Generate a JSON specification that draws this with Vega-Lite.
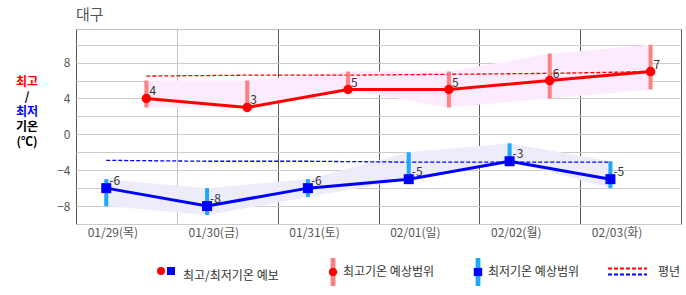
{
  "$schema": "https://vega.github.io/schema/vega-lite/v6.json",
  "width": 605,
  "height": 195,
  "autosize": "none",
  "padding": {"left": 76, "top": 29, "right": 5, "bottom": 71},
  "background": "#ffffff",
  "config": {
    "font": "Noto Sans CJK KR",
    "view": {"stroke": "#c3c3c3"},
    "legend": {"padding": 0},
    "axisY": {"title": null, "ticks": false, "domain": false, "grid": true, "gridColor": "#cccccc", "labelColor": "#555555", "labelFontSize": 12, "labelPadding": 6, "labelFont": "Noto Sans CJK KR"},
    "axisX": {"title": null, "ticks": false, "domain": false, "labelAngle": 0, "labelColor": "#555555", "labelFontSize": 12, "labelPadding": 3, "labelFont": "Noto Sans CJK KR"}
  },
  "title": {"text": "대구", "anchor": "start", "frame": "group", "fontSize": 15, "fontWeight": "normal", "color": "#555555", "offset": 6, "font": "Noto Sans CJK KR"},
  "data": {"values": [
    {"date": "01/29(목)", "hi": 4, "lo": -6, "hiMax": 6, "hiMin": 3, "loMax": -5, "loMin": -8, "hiN": 6.5, "loN": -2.9},
    {"date": "01/30(금)", "hi": 3, "lo": -8, "hiMax": 6, "hiMin": 3, "loMax": -6, "loMin": -9, "hiN": 6.6, "loN": -3.0},
    {"date": "01/31(토)", "hi": 5, "lo": -6, "hiMax": 7, "hiMin": 5, "loMax": -5, "loMin": -7, "hiN": 6.6, "loN": -3.0},
    {"date": "02/01(일)", "hi": 5, "lo": -5, "hiMax": 7, "hiMin": 3, "loMax": -2, "loMin": -5, "hiN": 6.7, "loN": -3.1},
    {"date": "02/02(월)", "hi": 6, "lo": -3, "hiMax": 9, "hiMin": 4, "loMax": -1, "loMin": -3, "hiN": 6.8, "loN": -3.1},
    {"date": "02/03(화)", "hi": 7, "lo": -5, "hiMax": 10, "hiMin": 5, "loMax": -3, "loMin": -6, "hiN": 7.0, "loN": -3.1}
  ]},
  "layer": [
    {
      "mark": {"type": "area", "color": "#fcebfc", "opacity": 1},
      "encoding": {
        "x": {"field": "date", "type": "nominal", "sort": null, "bandPosition": 0.698,
          "scale": {"type": "band", "paddingInner": 0, "paddingOuter": 0},
          "axis": {"tickBand": "extent", "grid": true, "gridWidth": 1,
            "gridColor": {"condition": {"test": "datum.value === '01/29(목)'", "value": "#c3c3c3"}, "value": "#5c5c5c"},
            "labelOffset": -14}},
        "y": {"field": "hiMax", "type": "quantitative", "scale": {"domain": [-10, 11.75], "nice": false, "zero": false},
          "axis": {"values": [-10, -8, -6, -4, -2, 0, 2, 4, 6, 8, 10], "labelExpr": "datum.value % 4 === 0 ? datum.label : ''"}},
        "y2": {"field": "hiMin"}
      }
    },
    {
      "mark": {"type": "area", "color": "#ececfb", "opacity": 1},
      "encoding": {
        "x": {"field": "date", "type": "nominal", "sort": null, "bandPosition": 0.3},
        "y": {"field": "loMax", "type": "quantitative", "scale": {"domain": [-10, 11.75], "nice": false, "zero": false},
          "axis": {"values": [-10, -8, -6, -4, -2, 0, 2, 4, 6, 8, 10], "labelExpr": "datum.value % 4 === 0 ? datum.label : ''"}},
        "y2": {"field": "loMin"}
      }
    },
    {
      "mark": {"type": "line", "color": "#ff0000", "strokeWidth": 1.3},
      "encoding": {
        "x": {"field": "date", "type": "nominal", "sort": null, "bandPosition": 0.698},
        "y": {"field": "hiN", "type": "quantitative", "scale": {"domain": [-10, 11.75], "nice": false, "zero": false},
          "axis": {"values": [-10, -8, -6, -4, -2, 0, 2, 4, 6, 8, 10], "labelExpr": "datum.value % 4 === 0 ? datum.label : ''"}},
        "strokeDash": {"datum": "평년", "scale": {"domain": ["평년"], "range": [[4, 2]]},
          "legend": {"orient": "none", "legendX": 531, "legendY": 222, "title": null, "padding": 0,
            "symbolSize": 1521, "symbolStrokeWidth": 2, "labelOffset": 10, "labelFontSize": 12, "labelColor": "#333333", "labelFont": "Noto Sans CJK KR",
            "symbolType": "M-1,-0.15L1,-0.15M-1,0.15L1,0.15",
            "symbolFillColor": "transparent",
            "symbolStrokeColor": {"expr": "{gradient: 'linear', x1: 0, y1: 0, x2: 0, y2: 1, stops: [{offset: 0, color: '#ff0000'}, {offset: 0.5, color: '#ff0000'}, {offset: 0.5, color: '#0000ff'}, {offset: 1, color: '#0000ff'}]}"}}}
      }
    },
    {
      "mark": {"type": "line", "color": "#0000ff", "strokeWidth": 1.3},
      "encoding": {
        "x": {"field": "date", "type": "nominal", "sort": null, "bandPosition": 0.3},
        "y": {"field": "loN", "type": "quantitative", "scale": {"domain": [-10, 11.75], "nice": false, "zero": false},
          "axis": {"values": [-10, -8, -6, -4, -2, 0, 2, 4, 6, 8, 10], "labelExpr": "datum.value % 4 === 0 ? datum.label : ''"}},
        "strokeDash": {"datum": "평년", "scale": {"domain": ["평년"], "range": [[4, 2]]},
          "legend": {"orient": "none", "legendX": 531, "legendY": 222, "title": null, "padding": 0,
            "symbolSize": 1521, "symbolStrokeWidth": 2, "labelOffset": 10, "labelFontSize": 12, "labelColor": "#333333", "labelFont": "Noto Sans CJK KR",
            "symbolType": "M-1,-0.15L1,-0.15M-1,0.15L1,0.15",
            "symbolFillColor": "transparent",
            "symbolStrokeColor": {"expr": "{gradient: 'linear', x1: 0, y1: 0, x2: 0, y2: 1, stops: [{offset: 0, color: '#ff0000'}, {offset: 0.5, color: '#ff0000'}, {offset: 0.5, color: '#0000ff'}, {offset: 1, color: '#0000ff'}]}"}}}
      }
    },
    {
      "mark": {"type": "rule", "strokeWidth": 4, "opacity": 1},
      "encoding": {
        "x": {"field": "date", "type": "nominal", "sort": null, "bandPosition": 0.698},
        "y": {"field": "hiMax", "type": "quantitative", "scale": {"domain": [-10, 11.75], "nice": false, "zero": false},
          "axis": {"values": [-10, -8, -6, -4, -2, 0, 2, 4, 6, 8, 10], "labelExpr": "datum.value % 4 === 0 ? datum.label : ''"}},
        "y2": {"field": "hiMin"},
        "stroke": {"datum": "hiR", "scale": {"domain": ["hiR", "loR"], "range": ["#ff8080", "#1ea7ff"]},
          "legend": {"orient": "none", "legendX": 243, "legendY": 229, "direction": "horizontal", "title": null, "padding": 0,
            "symbolSize": 784, "symbolStrokeWidth": 0, "labelOffset": -4, "columnPadding": 29,
            "labelFontSize": 12, "labelColor": "#333333", "labelFont": "Noto Sans CJK KR",
            "labelExpr": "datum.value === 'hiR' ? '최고기온 예상범위' : '최저기온 예상범위'",
            "symbolType": {"expr": "datum.value === 'hiR' ? 'M-0.17,-1L0.17,-1L0.17,1L-0.17,1Z M-0.3,0A0.3,0.3,0,1,1,0.3,0A0.3,0.3,0,1,1,-0.3,0Z' : 'M-0.17,-1L0.17,-1L0.17,1L-0.17,1Z M-0.3,-0.3L0.3,-0.3L0.3,0.3L-0.3,0.3Z'"},
            "symbolFillColor": {"expr": "datum.value === 'hiR' ? {gradient: 'linear', x1: 0, y1: 0, x2: 0, y2: 1, stops: [{offset: 0, color: '#ff8080'}, {offset: 0.35, color: '#ff8080'}, {offset: 0.35, color: '#ff0000'}, {offset: 0.65, color: '#ff0000'}, {offset: 0.65, color: '#ff8080'}, {offset: 1, color: '#ff8080'}]} : {gradient: 'linear', x1: 0, y1: 0, x2: 0, y2: 1, stops: [{offset: 0, color: '#1ea7ff'}, {offset: 0.35, color: '#1ea7ff'}, {offset: 0.35, color: '#0000ff'}, {offset: 0.65, color: '#0000ff'}, {offset: 0.65, color: '#1ea7ff'}, {offset: 1, color: '#1ea7ff'}]}"}}}
      }
    },
    {
      "mark": {"type": "rule", "strokeWidth": 4, "opacity": 1},
      "encoding": {
        "x": {"field": "date", "type": "nominal", "sort": null, "bandPosition": 0.3},
        "y": {"field": "loMax", "type": "quantitative", "scale": {"domain": [-10, 11.75], "nice": false, "zero": false},
          "axis": {"values": [-10, -8, -6, -4, -2, 0, 2, 4, 6, 8, 10], "labelExpr": "datum.value % 4 === 0 ? datum.label : ''"}},
        "y2": {"field": "loMin"},
        "stroke": {"datum": "loR", "scale": {"domain": ["hiR", "loR"], "range": ["#ff8080", "#1ea7ff"]}}
      }
    },
    {
      "mark": {"type": "line", "color": "#ff0000", "strokeWidth": 3},
      "encoding": {
        "x": {"field": "date", "type": "nominal", "sort": null, "bandPosition": 0.698},
        "y": {"field": "hi", "type": "quantitative", "scale": {"domain": [-10, 11.75], "nice": false, "zero": false},
          "axis": {"values": [-10, -8, -6, -4, -2, 0, 2, 4, 6, 8, 10], "labelExpr": "datum.value % 4 === 0 ? datum.label : ''"}}
      }
    },
    {
      "mark": {"type": "line", "color": "#0000ff", "strokeWidth": 3},
      "encoding": {
        "x": {"field": "date", "type": "nominal", "sort": null, "bandPosition": 0.3},
        "y": {"field": "lo", "type": "quantitative", "scale": {"domain": [-10, 11.75], "nice": false, "zero": false},
          "axis": {"values": [-10, -8, -6, -4, -2, 0, 2, 4, 6, 8, 10], "labelExpr": "datum.value % 4 === 0 ? datum.label : ''"}}
      }
    },
    {
      "mark": {"type": "point", "filled": true, "opacity": 1, "size": 90, "strokeWidth": 0},
      "encoding": {
        "x": {"field": "date", "type": "nominal", "sort": null, "bandPosition": 0.698},
        "y": {"field": "hi", "type": "quantitative", "scale": {"domain": [-10, 11.75], "nice": false, "zero": false},
          "axis": {"values": [-10, -8, -6, -4, -2, 0, 2, 4, 6, 8, 10], "labelExpr": "datum.value % 4 === 0 ? datum.label : ''"}},
        "color": {"datum": "hi", "scale": {"domain": ["hi", "lo"], "range": ["#ff0000", "#0000ff"]},
          "legend": {"orient": "none", "legendX": 79, "legendY": 236, "direction": "horizontal", "padding": 0,
            "title": "최고/최저기온 예보", "titleOrient": "right", "titlePadding": 8, "titleFontSize": 12, "titleFontWeight": "normal",
            "titleColor": "#333333", "titleFont": "Noto Sans CJK KR", "titleBaseline": "top",
            "symbolSize": 64, "symbolStrokeWidth": 0, "labelOffset": -2, "columnPadding": 0,
            "labelFontSize": 12, "labelColor": "#333333", "labelFont": "Noto Sans CJK KR",
            "symbolType": {"expr": "datum.value === 'hi' ? 'circle' : 'square'"},
            "labelExpr": "''"}},
        "shape": {"datum": "최고", "scale": {"domain": ["최고", "/", "최저", "기온", "(℃)"], "range": ["circle", "circle", "square", "circle", "circle"]},
          "legend": {"orient": "none", "legendX": -61, "legendY": 47, "direction": "vertical", "title": null, "padding": 0,
            "symbolSize": 1, "symbolStrokeWidth": 0, "symbolOpacity": 0, "labelAlign": "center", "labelOffset": 0, "rowPadding": 3,
            "labelFontSize": 12, "labelFontWeight": "bold", "labelFont": "Noto Sans CJK KR",
            "labelColor": {"expr": "datum.value === '최고' ? '#ff0000' : datum.value === '최저' ? '#0000ff' : '#000000'"}}}
      }
    },
    {
      "mark": {"type": "point", "filled": true, "opacity": 1, "size": 100, "strokeWidth": 0},
      "encoding": {
        "x": {"field": "date", "type": "nominal", "sort": null, "bandPosition": 0.3},
        "y": {"field": "lo", "type": "quantitative", "scale": {"domain": [-10, 11.75], "nice": false, "zero": false},
          "axis": {"values": [-10, -8, -6, -4, -2, 0, 2, 4, 6, 8, 10], "labelExpr": "datum.value % 4 === 0 ? datum.label : ''"}},
        "color": {"datum": "lo", "scale": {"domain": ["hi", "lo"], "range": ["#ff0000", "#0000ff"]}},
        "shape": {"datum": "최저", "scale": {"domain": ["최고", "/", "최저", "기온", "(℃)"], "range": ["circle", "circle", "square", "circle", "circle"]}}
      }
    },
    {
      "mark": {"type": "text", "align": "left", "baseline": "alphabetic", "dx": 3, "dy": -3, "fontSize": 12, "color": "#333333", "font": "Noto Sans CJK KR"},
      "encoding": {
        "x": {"field": "date", "type": "nominal", "sort": null, "bandPosition": 0.698},
        "y": {"field": "hi", "type": "quantitative", "scale": {"domain": [-10, 11.75], "nice": false, "zero": false},
          "axis": {"values": [-10, -8, -6, -4, -2, 0, 2, 4, 6, 8, 10], "labelExpr": "datum.value % 4 === 0 ? datum.label : ''"}},
        "text": {"field": "hi", "type": "nominal"}
      }
    },
    {
      "mark": {"type": "text", "align": "left", "baseline": "alphabetic", "dx": 3, "dy": -3, "fontSize": 12, "color": "#333333", "font": "Noto Sans CJK KR"},
      "encoding": {
        "x": {"field": "date", "type": "nominal", "sort": null, "bandPosition": 0.3},
        "y": {"field": "lo", "type": "quantitative", "scale": {"domain": [-10, 11.75], "nice": false, "zero": false},
          "axis": {"values": [-10, -8, -6, -4, -2, 0, 2, 4, 6, 8, 10], "labelExpr": "datum.value % 4 === 0 ? datum.label : ''"}},
        "text": {"field": "lo", "type": "nominal"}
      }
    }
  ]
}
